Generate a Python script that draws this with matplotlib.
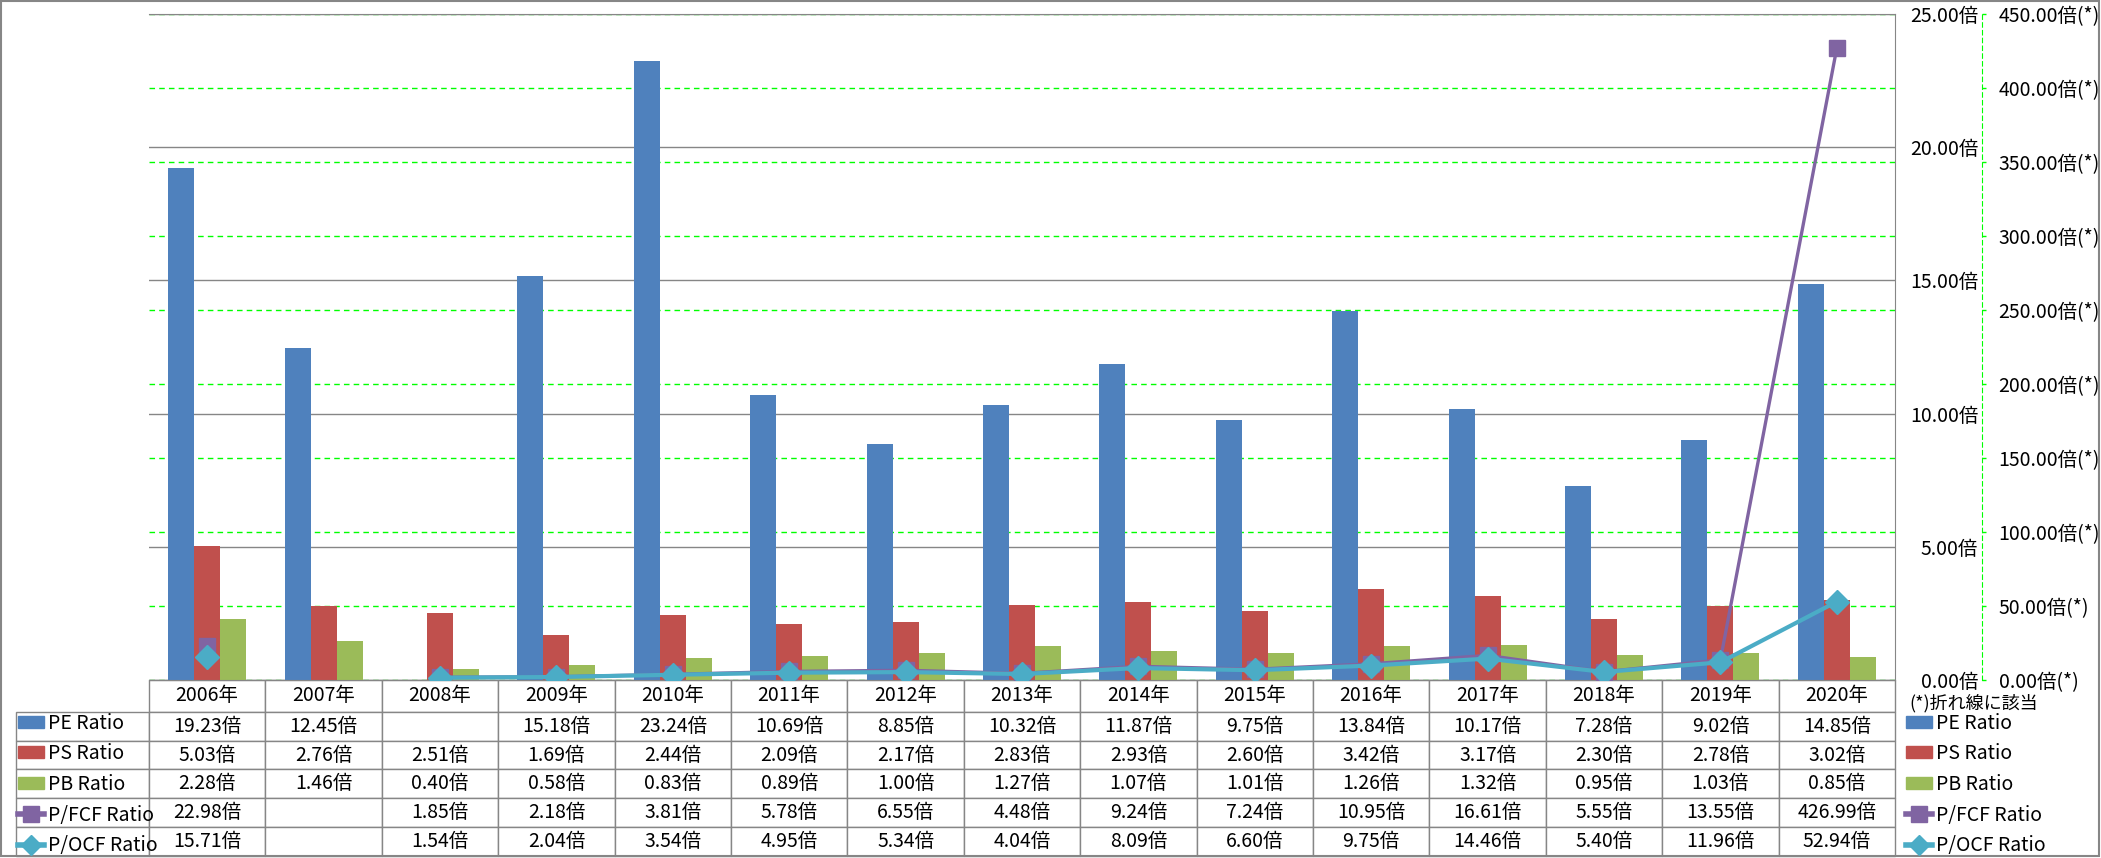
import numpy as np
import matplotlib
matplotlib.use('Agg')
import matplotlib.pyplot as plt
from matplotlib.table import Table
from matplotlib.patches import Patch, Rectangle
from matplotlib.lines import Line2D

plt.rcParams['font.family'] = ['Noto Sans CJK JP', 'DejaVu Sans']

nan = np.nan
years = ['2006年', '2007年', '2008年', '2009年', '2010年', '2011年', '2012年', '2013年',
         '2014年', '2015年', '2016年', '2017年', '2018年', '2019年', '2020年']
pe = [19.23, 12.45, nan, 15.18, 23.24, 10.69, 8.85, 10.32, 11.87, 9.75, 13.84, 10.17, 7.28, 9.02, 14.85]
ps = [5.03, 2.76, 2.51, 1.69, 2.44, 2.09, 2.17, 2.83, 2.93, 2.60, 3.42, 3.17, 2.30, 2.78, 3.02]
pb = [2.28, 1.46, 0.40, 0.58, 0.83, 0.89, 1.00, 1.27, 1.07, 1.01, 1.26, 1.32, 0.95, 1.03, 0.85]
pfcf = [22.98, nan, 1.85, 2.18, 3.81, 5.78, 6.55, 4.48, 9.24, 7.24, 10.95, 16.61, 5.55, 13.55, 426.99]
pocf = [15.71, nan, 1.54, 2.04, 3.54, 4.95, 5.34, 4.04, 8.09, 6.60, 9.75, 14.46, 5.40, 11.96, 52.94]
names = ['PE Ratio', 'PS Ratio', 'PB Ratio', 'P/FCF Ratio', 'P/OCF Ratio']
left_ticks = [0, 5, 10, 15, 20, 25]
right_ticks = [0, 50, 100, 150, 200, 250, 300, 350, 400, 450]
note = '(*)折れ線に該当'

c_pe, c_ps, c_pb = '#4F81BD', '#C0504D', '#9BBB59'
c_fcf, c_ocf = '#8064A2', '#4BACC6'
gray = '#868686'
lime = '#00FF00'

W, H = 2101, 858
fig = plt.figure(figsize=(W / 100, H / 100), dpi=100)
fx = lambda p: p / W
fy = lambda p: 1 - p / H

ax = fig.add_axes([fx(149), fy(680), fx(1895) - fx(149), fy(14) - fy(680)])
ax2 = ax.twinx()   # secondary scale + green grid (drawn first)
ax3 = ax.twinx()   # lines (drawn last)
ax2.set_zorder(0)
ax.set_zorder(1)
ax3.set_zorder(2)
ax.patch.set_visible(False)

x = np.arange(len(years))
w = 0.2234
ax.bar(x - w, pe, w, color=c_pe)
ax.bar(x, ps, w, color=c_ps)
ax.bar(x + w, pb, w, color=c_pb)
ax.set_xlim(-0.5, len(years) - 0.5)
ax.set_ylim(0, 25)
ax.set_xticks([])
ax.set_axisbelow(True)
ax.yaxis.grid(True, color=gray, lw=1)
for s in ['left']:
    ax.spines[s].set_visible(False)
for s in ['top', 'right', 'bottom']:
    ax.spines[s].set_color(gray)
ax.yaxis.tick_right()
ax.set_yticks(left_ticks)
ax.set_yticklabels([f'{v:.2f}倍' for v in left_ticks])
ax.tick_params(axis='y', length=0, pad=60, labelsize=14)
plt.setp(ax.get_yticklabels(), ha='right')

ax2.set_ylim(0, 450)
ax2.set_yticks(right_ticks)
ax2.set_yticklabels([f'{v:.2f}倍(*)' for v in right_ticks])
ax2.yaxis.grid(True, color=lime, ls=(0, (4, 3)), lw=1)
for s in ['left', 'top', 'bottom']:
    ax2.spines[s].set_visible(False)
ax2.spines['right'].set_position(('outward', 62.6))
ax2.spines['right'].set_color(lime)
ax2.spines['right'].set_linestyle((0, (4, 3)))
ax2.tick_params(axis='y', colors=lime, labelcolor='black', length=3, width=1,
                pad=9, labelsize=14)

ax3.set_ylim(0, 450)
ax3.axis('off')
ax3.plot(x, pfcf, color=c_fcf, lw=2.4, marker='s', ms=12, zorder=2)
ax3.plot(x, pocf, color=c_ocf, lw=3, marker='D', ms=12.5, zorder=3)

# data table under the plot
tb = Table(ax, bbox=[(16 - 149) / 1746, -(856 - 680) / 666, (1895 - 16) / 1746, (856 - 680) / 666])
rows = [pe, ps, pb, pfcf, pocf]
cw0, cw = 133, 116.4
c = tb.add_cell(0, 0, cw0, 32, text='')
c.visible_edges = 'open'
for j, yr in enumerate(years):
    tb.add_cell(0, j + 1, cw, 32, text=yr, loc='center', edgecolor=gray)
for i, vals in enumerate(rows):
    tb.add_cell(i + 1, 0, cw0, 29, text='', edgecolor=gray)
    for j, v in enumerate(vals):
        t = '' if np.isnan(v) else f'{v:.2f}倍'
        tb.add_cell(i + 1, j + 1, cw, 29, text=t, loc='center', edgecolor=gray)
tb.auto_set_font_size(False)
tb.set_fontsize(14)
ax.add_table(tb)

handles = [Patch(color=c_pe), Patch(color=c_ps), Patch(color=c_pb),
           Line2D([], [], color=c_fcf, lw=4, marker='s', ms=11),
           Line2D([], [], color=c_ocf, lw=4, marker='D', ms=10)]
for lx in [18, 1906]:
    fig.legend(handles, names, loc='center left', bbox_to_anchor=(fx(lx), fy(784.5)),
               frameon=False, borderpad=0, borderaxespad=0, fontsize=14,
               handlelength=1.35, handleheight=0.57, handletextpad=0.2,
               labelspacing=0.5)

fig.text(fx(1909), fy(703), note, fontsize=13, va='center', ha='left')

fig.patches.append(Rectangle((fx(1), fy(856)), fx(2099) - fx(1), fy(1) - fy(856),
                             transform=fig.transFigure, fill=False, edgecolor=gray, lw=1.5))

fig.savefig('out.png', dpi=100)
